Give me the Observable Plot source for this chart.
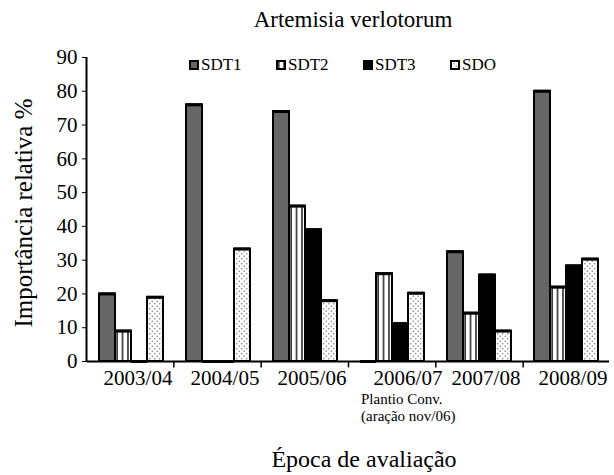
<!DOCTYPE html>
<html>
<head>
<meta charset="utf-8">
<script src="https://cdn.jsdelivr.net/npm/d3@7"></script>
<script src="https://cdn.jsdelivr.net/npm/@observablehq/plot@0.6"></script>
<style>
  html, body { margin: 0; padding: 0; background: white; }
  #wrap { position: relative; width: 614px; height: 475px; color: black; }
  #wrap, #wrap * { font-family: "Liberation Serif", "Times New Roman", serif !important; }
  #wrap svg.plot { position: absolute; left: 0; top: 0; }
  .txt { position: absolute; white-space: nowrap; line-height: 1; }
  #title { left: 353px; top: 8px; font-size: 23px; transform: translateX(-50%); }
  #xlabel { left: 364px; top: 447px; font-size: 24px; transform: translateX(-50%); }
  #ylabel { left: 22.5px; top: 212.5px; font-size: 25px; transform: translate(-50%, -50%) rotate(-90deg); }
  #note { left: 361px; top: 391px; font-size: 15px; line-height: 17px; white-space: nowrap; position: absolute; }
  #legend { position: absolute; left: 189px; top: 56px; display: flex; font-size: 17px; line-height: 17px; }
  #legend .item { display: flex; align-items: center; width: 87px; }
  #legend .item svg { margin-right: 2px; }
</style>
</head>
<body>
<svg width="0" height="0" style="position:absolute">
  <defs>
    <pattern id="pat-stripes" patternUnits="userSpaceOnUse" width="5.4" height="10">
      <rect width="5.4" height="10" fill="white"></rect>
      <rect x="2.1" y="0" width="1.3" height="10" fill="black"></rect>
    </pattern>
    <pattern id="pat-dots" patternUnits="userSpaceOnUse" width="5" height="5">
      <rect width="5" height="5" fill="white"></rect>
      <circle cx="1.25" cy="1.25" r="0.75" fill="#777"></circle>
      <circle cx="3.75" cy="3.75" r="0.75" fill="#777"></circle>
    </pattern>
  </defs>
</svg>
<div id="wrap">
  <div id="title" class="txt">Artemisia verlotorum</div>
  <div id="legend"></div>
  <div id="ylabel" class="txt">Importância relativa %</div>
  <div id="note">Plantio Conv.<br>(aração nov/06)</div>
  <div id="xlabel" class="txt">Época de avaliação</div>
</div>
<script>
const epochs = ["2003/04", "2004/05", "2005/06", "2006/07", "2007/08", "2008/09"];
const series = ["SDT1", "SDT2", "SDT3", "SDO"];
const SDT1 = [20, 76, 74, 0, 32.5, 80];
const SDT2 = [9, 0, 46, 26, 14.3, 22];
const SDT3 = [0, 0, 39, 11.2, 25.6, 28.3];
const SDO  = [19, 33.3, 18, 20.2, 9, 30.3];
const yTicks = [0, 10, 20, 30, 40, 50, 60, 70, 80, 90];

const valuesBySeries = {SDT1, SDT2, SDT3, SDO};
const fills = {SDT1: "#666666", SDT2: "url(#pat-stripes)", SDT3: "#000000", SDO: "url(#pat-dots)"};
const serif = "'Liberation Serif', 'Times New Roman', serif";

const rows = [];
series.forEach(s => epochs.forEach((e, i) => rows.push({epoch: e, series: s, value: valuesBySeries[s][i]})));

const W = 614, H = 475, mL = 86, mR = 4, mT = 57, mB = 114;

const shifted = ["2006/07"];
const marks = [];
for (const s of series) {
  marks.push(Plot.barY(rows.filter(d => d.series === s), {
    fx: "epoch", x: "series", y: "value",
    fill: fills[s], stroke: "black", strokeWidth: 2
  }));
}
marks.push(Plot.tickY(rows, {fx: "epoch", x: "series", y: "value", stroke: "black", strokeWidth: 3}));
marks.push(Plot.ruleY([0], {stroke: "black", strokeWidth: 2}));
marks.push(Plot.axisY({ticks: yTicks, tickSize: 5, tickPadding: 5, label: null, fontSize: 21, fontFamily: serif}));
marks.push(Plot.axisFx({anchor: "bottom", ticks: epochs.filter(e => !shifted.includes(e)), tickSize: 0, tickPadding: 9, dx: 7, label: null, fontSize: 21, fontFamily: serif}));
marks.push(Plot.axisFx({anchor: "bottom", ticks: shifted, tickSize: 0, tickPadding: 9, dx: 16, label: null, fontSize: 21, fontFamily: serif}));

const chart = Plot.plot({
  width: W, height: H,
  marginLeft: mL, marginRight: mR, marginTop: mT, marginBottom: mB,
  style: {fontFamily: serif, fontSize: "21px", color: "black", background: "transparent", overflow: "visible"},
  fx: {domain: epochs, padding: 0, label: null},
  x: {domain: series, paddingInner: 0, paddingOuter: 0.64, axis: null},
  y: {domain: [0, 90], label: null},
  marks
});
chart.classList.add("plot");
document.getElementById("wrap").prepend(chart);

// y axis line and category boundary ticks (overlay on the same frame)
const boundaries = d3.range(1, epochs.length);
const overlay = Plot.plot({
  width: W, height: H,
  marginLeft: mL, marginRight: mR, marginTop: mT, marginBottom: mB,
  style: {background: "transparent", overflow: "visible"},
  x: {domain: [0, epochs.length], axis: null},
  y: {domain: [0, 90], axis: null},
  marks: [
    Plot.ruleX([0], {y1: 0, y2: 90, stroke: "black", strokeWidth: 2}),
    Plot.ruleX(boundaries, {x: d => d, y1: 0, y2: -1.9, stroke: "black", strokeWidth: 1.5})
  ]
});
overlay.classList.add("plot");
document.getElementById("wrap").prepend(overlay);

// legend
const legend = document.getElementById("legend");
for (const s of series) {
  const item = document.createElement("div");
  item.className = "item";
  item.innerHTML = `<svg width="10" height="10"><rect x="1" y="1" width="8" height="8" fill="${fills[s]}" stroke="black" stroke-width="2"></rect></svg><span>${s}</span>`;
  legend.appendChild(item);
}
</script>
</body>
</html>
